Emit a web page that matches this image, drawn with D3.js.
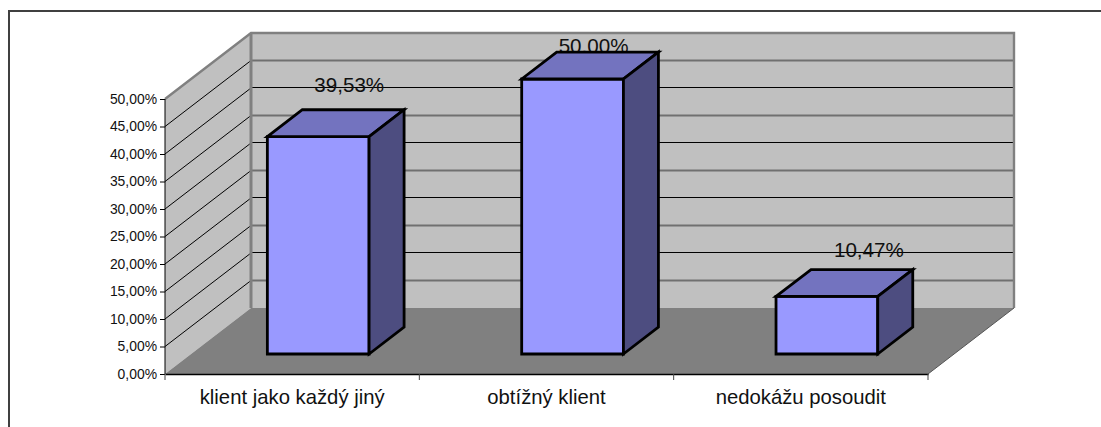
<!DOCTYPE html>
<html>
<head>
<meta charset="utf-8">
<script src="https://cdn.jsdelivr.net/npm/d3@7/dist/d3.min.js"></script>
<style>
html,body{margin:0;padding:0;background:#fff;overflow:hidden}
svg{display:block}
text{font-family:"Liberation Sans",Arial,sans-serif;fill:#111}
</style>
</head>
<body>
<svg id="chart" width="1101" height="427"></svg>
<script>
// Data
const categories = ["klient jako každý jiný", "obtížný klient", "nedokážu posoudit"];
const shares = [39.53, 50.00, 10.47];
const shareLabels = ["39,53%", "50,00%", "10,47%"];
const tickValues = [0, 5, 10, 15, 20, 25, 30, 35, 40, 45, 50];
const tickLabels = ["0,00%", "5,00%", "10,00%", "15,00%", "20,00%", "25,00%", "30,00%", "35,00%", "40,00%", "45,00%", "50,00%"];

// Oblique projection: depth 0 is the front of the floor, depth 1 the back wall
const svg = d3.select("#chart");
const x = d3.scaleBand().domain(categories).range([165, 928]);
const y = d3.scaleLinear().domain([0, 50]).range([374, 99]);
const depthX = d3.scaleLinear().domain([0, 1]).range([0, 86]);
const depthY = d3.scaleLinear().domain([0, 1]).range([0, -66]);
const pt = (px, v, d) => [px + depthX(d), y(v) + depthY(d)];
const poly = pts => d3.line()(pts) + "Z";

const x0 = x.range()[0], x1 = x.range()[1];
const ZERO = tickValues[0], TOP = tickValues[tickValues.length - 1];

// Outer frame (top and left only)
svg.append("path").attr("d", "M9,427V11H1101").attr("fill", "none")
  .attr("stroke", "#404040").attr("stroke-width", 2);

// Walls and floor
svg.append("path").attr("d", poly([pt(x0, ZERO, 1), pt(x1, ZERO, 1), pt(x1, TOP, 1), pt(x0, TOP, 1)]))
  .attr("fill", "#c0c0c0");
svg.append("path").attr("d", poly([pt(x0, ZERO, 0), pt(x0, ZERO, 1), pt(x0, TOP, 1), pt(x0, TOP, 0)]))
  .attr("fill", "#c0c0c0");
svg.append("path").attr("d", poly([pt(x0, ZERO, 0), pt(x1, ZERO, 0), pt(x1, ZERO, 1), pt(x0, ZERO, 1)]))
  .attr("fill", "#808080");

// Gridlines: thin on the side wall, alternating weights on the back wall
tickValues.slice(1, -1).forEach((v, i) => {
  svg.append("path").attr("d", d3.line()([pt(x0, v, 0), pt(x0, v, 1)]))
    .attr("stroke", "#000").attr("stroke-width", 1).attr("fill", "none");
  const heavy = i % 2 === 0;
  const [ax, ay] = pt(x0, v, 1), [bx] = pt(x1, v, 1);
  const lineY = heavy ? ay : ay - 0.5;
  svg.append("path").attr("d", d3.line()([[ax, lineY], [bx, lineY]]))
    .attr("stroke", heavy ? "#707070" : "#000").attr("stroke-width", heavy ? 2 : 1)
    .attr("fill", "none");
});

// Wall borders
svg.append("path")
  .attr("d", d3.line()([pt(x0, TOP, 0), pt(x0, TOP, 1), pt(x1, TOP, 1), pt(x1, ZERO, 1)]))
  .attr("fill", "none").attr("stroke", "#808080").attr("stroke-width", 2.4);
svg.append("path").attr("d", d3.line()([pt(x0, TOP, 1), pt(x0, ZERO, 1)]))
  .attr("fill", "none").attr("stroke", "#808080").attr("stroke-width", 3);
svg.append("path").attr("d", d3.line()([pt(x1, ZERO, 0), pt(x1, ZERO, 1)]))
  .attr("fill", "none").attr("stroke", "#555").attr("stroke-width", 1);

// Axes
const yAxis = d3.axisLeft(y).tickValues(tickValues).tickSize(5).tickPadding(3)
  .tickFormat((d, i) => tickLabels[i]);
svg.append("g").attr("transform", `translate(${x0},0)`).call(yAxis)
  .call(g => g.selectAll("text").style("font-size", "13.9px").attr("font-family", null))
  .call(g => g.selectAll("line,path").attr("stroke", "#000"))
  .call(g => g.select(".domain").attr("d", `M0,${y(ZERO)}V${y(TOP)}`));

const xAxis = d3.axisBottom(x).tickValues([]).tickSizeOuter(0);
svg.append("g").attr("transform", `translate(0,${y(ZERO)})`).call(xAxis)
  .call(g => g.select(".domain").attr("stroke", "#000").attr("stroke-width", 1.4));
svg.append("g").selectAll("line")
  .data(d3.range(categories.length + 1))
  .join("line")
  .attr("x1", i => x0 + i * x.bandwidth()).attr("x2", i => x0 + i * x.bandwidth())
  .attr("y1", y(ZERO)).attr("y2", y(ZERO) + 6)
  .attr("stroke", "#444");
svg.append("g").selectAll("text")
  .data(categories)
  .join("text")
  .attr("x", d => x(d) + x.bandwidth() / 2)
  .attr("y", y(ZERO) + 30)
  .attr("text-anchor", "middle")
  .style("font-size", "20.3px")
  .text(d => d);

// Bars: a box between two depth planes inside each category band
const barWidth = x.bandwidth() * 0.4;
const depthFront = 0.303, depthBack = 0.71;
const labelShift = [[-4, -25], [-14, -6], [7, -20]];

// Value labels sit behind the boxes
svg.append("g").selectAll("text")
  .data(shares)
  .join("text")
  .attr("x", (v, i) => x(categories[i]) + x.bandwidth() / 2 + depthX(depthBack) + labelShift[i][0])
  .attr("y", (v, i) => y(v) + depthY(depthBack) + labelShift[i][1] + 7)
  .attr("text-anchor", "middle")
  .style("font-size", "20.6px")
  .text((v, i) => shareLabels[i]);

const bars = svg.append("g").selectAll("g")
  .data(shares)
  .join("g")
  .attr("stroke", "#000").attr("stroke-width", 2.8).attr("stroke-linejoin", "miter");

bars.each(function (v, i) {
  const g = d3.select(this);
  const l = x(categories[i]) + x.bandwidth() / 2 - barWidth / 2;
  const r = l + barWidth;
  g.append("path").attr("fill", "#9999ff")
    .attr("d", poly([pt(l, ZERO, depthFront), pt(r, ZERO, depthFront), pt(r, v, depthFront), pt(l, v, depthFront)]));
  g.append("path").attr("fill", "#7373bf")
    .attr("d", poly([pt(l, v, depthFront), pt(r, v, depthFront), pt(r, v, depthBack), pt(l, v, depthBack)]));
  g.append("path").attr("fill", "#4d4d80")
    .attr("d", poly([pt(r, ZERO, depthFront), pt(r, ZERO, depthBack), pt(r, v, depthBack), pt(r, v, depthFront)]));
});
</script>
</body>
</html>
